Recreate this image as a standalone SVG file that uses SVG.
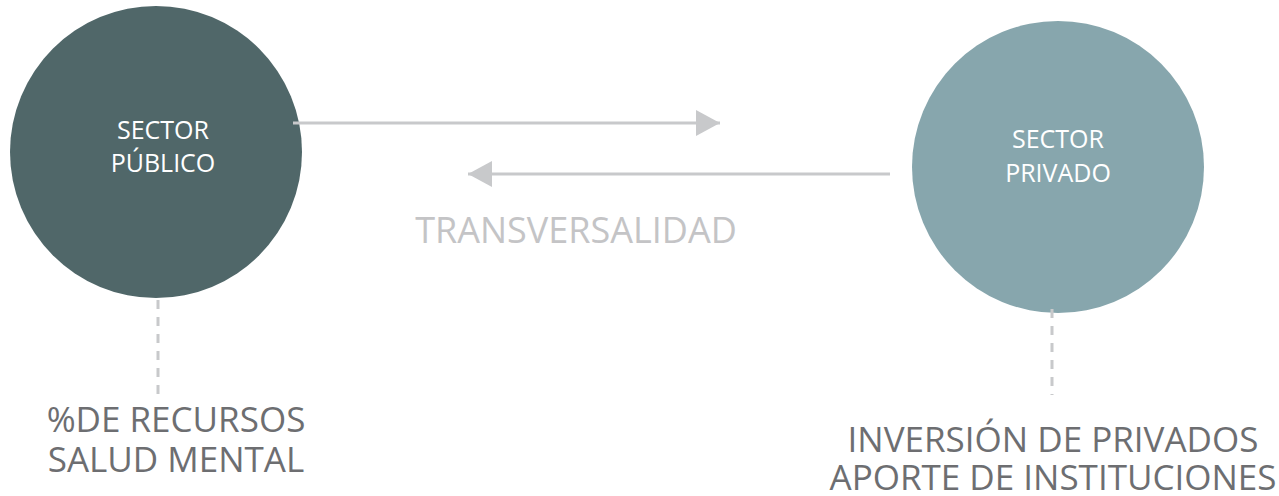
<svg xmlns="http://www.w3.org/2000/svg" width="1279" height="496" viewBox="0 0 1279 496">
<style>
text{font-family:"Open Sans","Noto Sans",sans-serif;}
.node text{fill:#ffffff;font-size:25px;text-anchor:middle;}
.lbl{fill:#6d6e71;font-size:35px;text-anchor:middle;}
.conn line{stroke:#c8c9cb;stroke-width:3;}
.dash{stroke:#b8b9bc;stroke-width:3;stroke-dasharray:9 8;}
</style>
<defs>
<marker id="ah" viewBox="0 0 24 26" refX="24" refY="13" markerWidth="24" markerHeight="26" markerUnits="userSpaceOnUse" orient="auto">
<path d="M0,0 L24,13 L0,26 Z" fill="#c8c9cb"/>
</marker>
</defs>
<g id="sector-publico" class="node">
<circle cx="156" cy="152" r="146" fill="#506769"/>
<text x="163" y="139">SECTOR</text>
<text x="163" y="172">PÚBLICO</text>
</g>
<g id="sector-privado" class="node">
<circle cx="1058" cy="167" r="146" fill="#87a6ad"/>
<text x="1058" y="148">SECTOR</text>
<text x="1058" y="182">PRIVADO</text>
</g>
<g id="connectors" class="conn">
<line x1="293" y1="123" x2="720" y2="123" marker-end="url(#ah)"/>
<line x1="890" y1="174" x2="468" y2="174" marker-end="url(#ah)"/>
<line class="dash" x1="158" y1="300" x2="158" y2="398"/>
<line class="dash" x1="1052" y1="309" x2="1052" y2="395"/>
</g>
<text x="576" y="243" style="fill:#c4c4c6;font-size:36px;text-anchor:middle">TRANSVERSALIDAD</text>
<g id="label-publico">
<text class="lbl" x="176" y="432">%DE RECURSOS</text>
<text class="lbl" x="176" y="472">SALUD MENTAL</text>
</g>
<g id="label-privado">
<text class="lbl" x="1053" y="452">INVERSIÓN DE PRIVADOS</text>
<text class="lbl" x="1053" y="490">APORTE DE INSTITUCIONES</text>
</g>
</svg>
